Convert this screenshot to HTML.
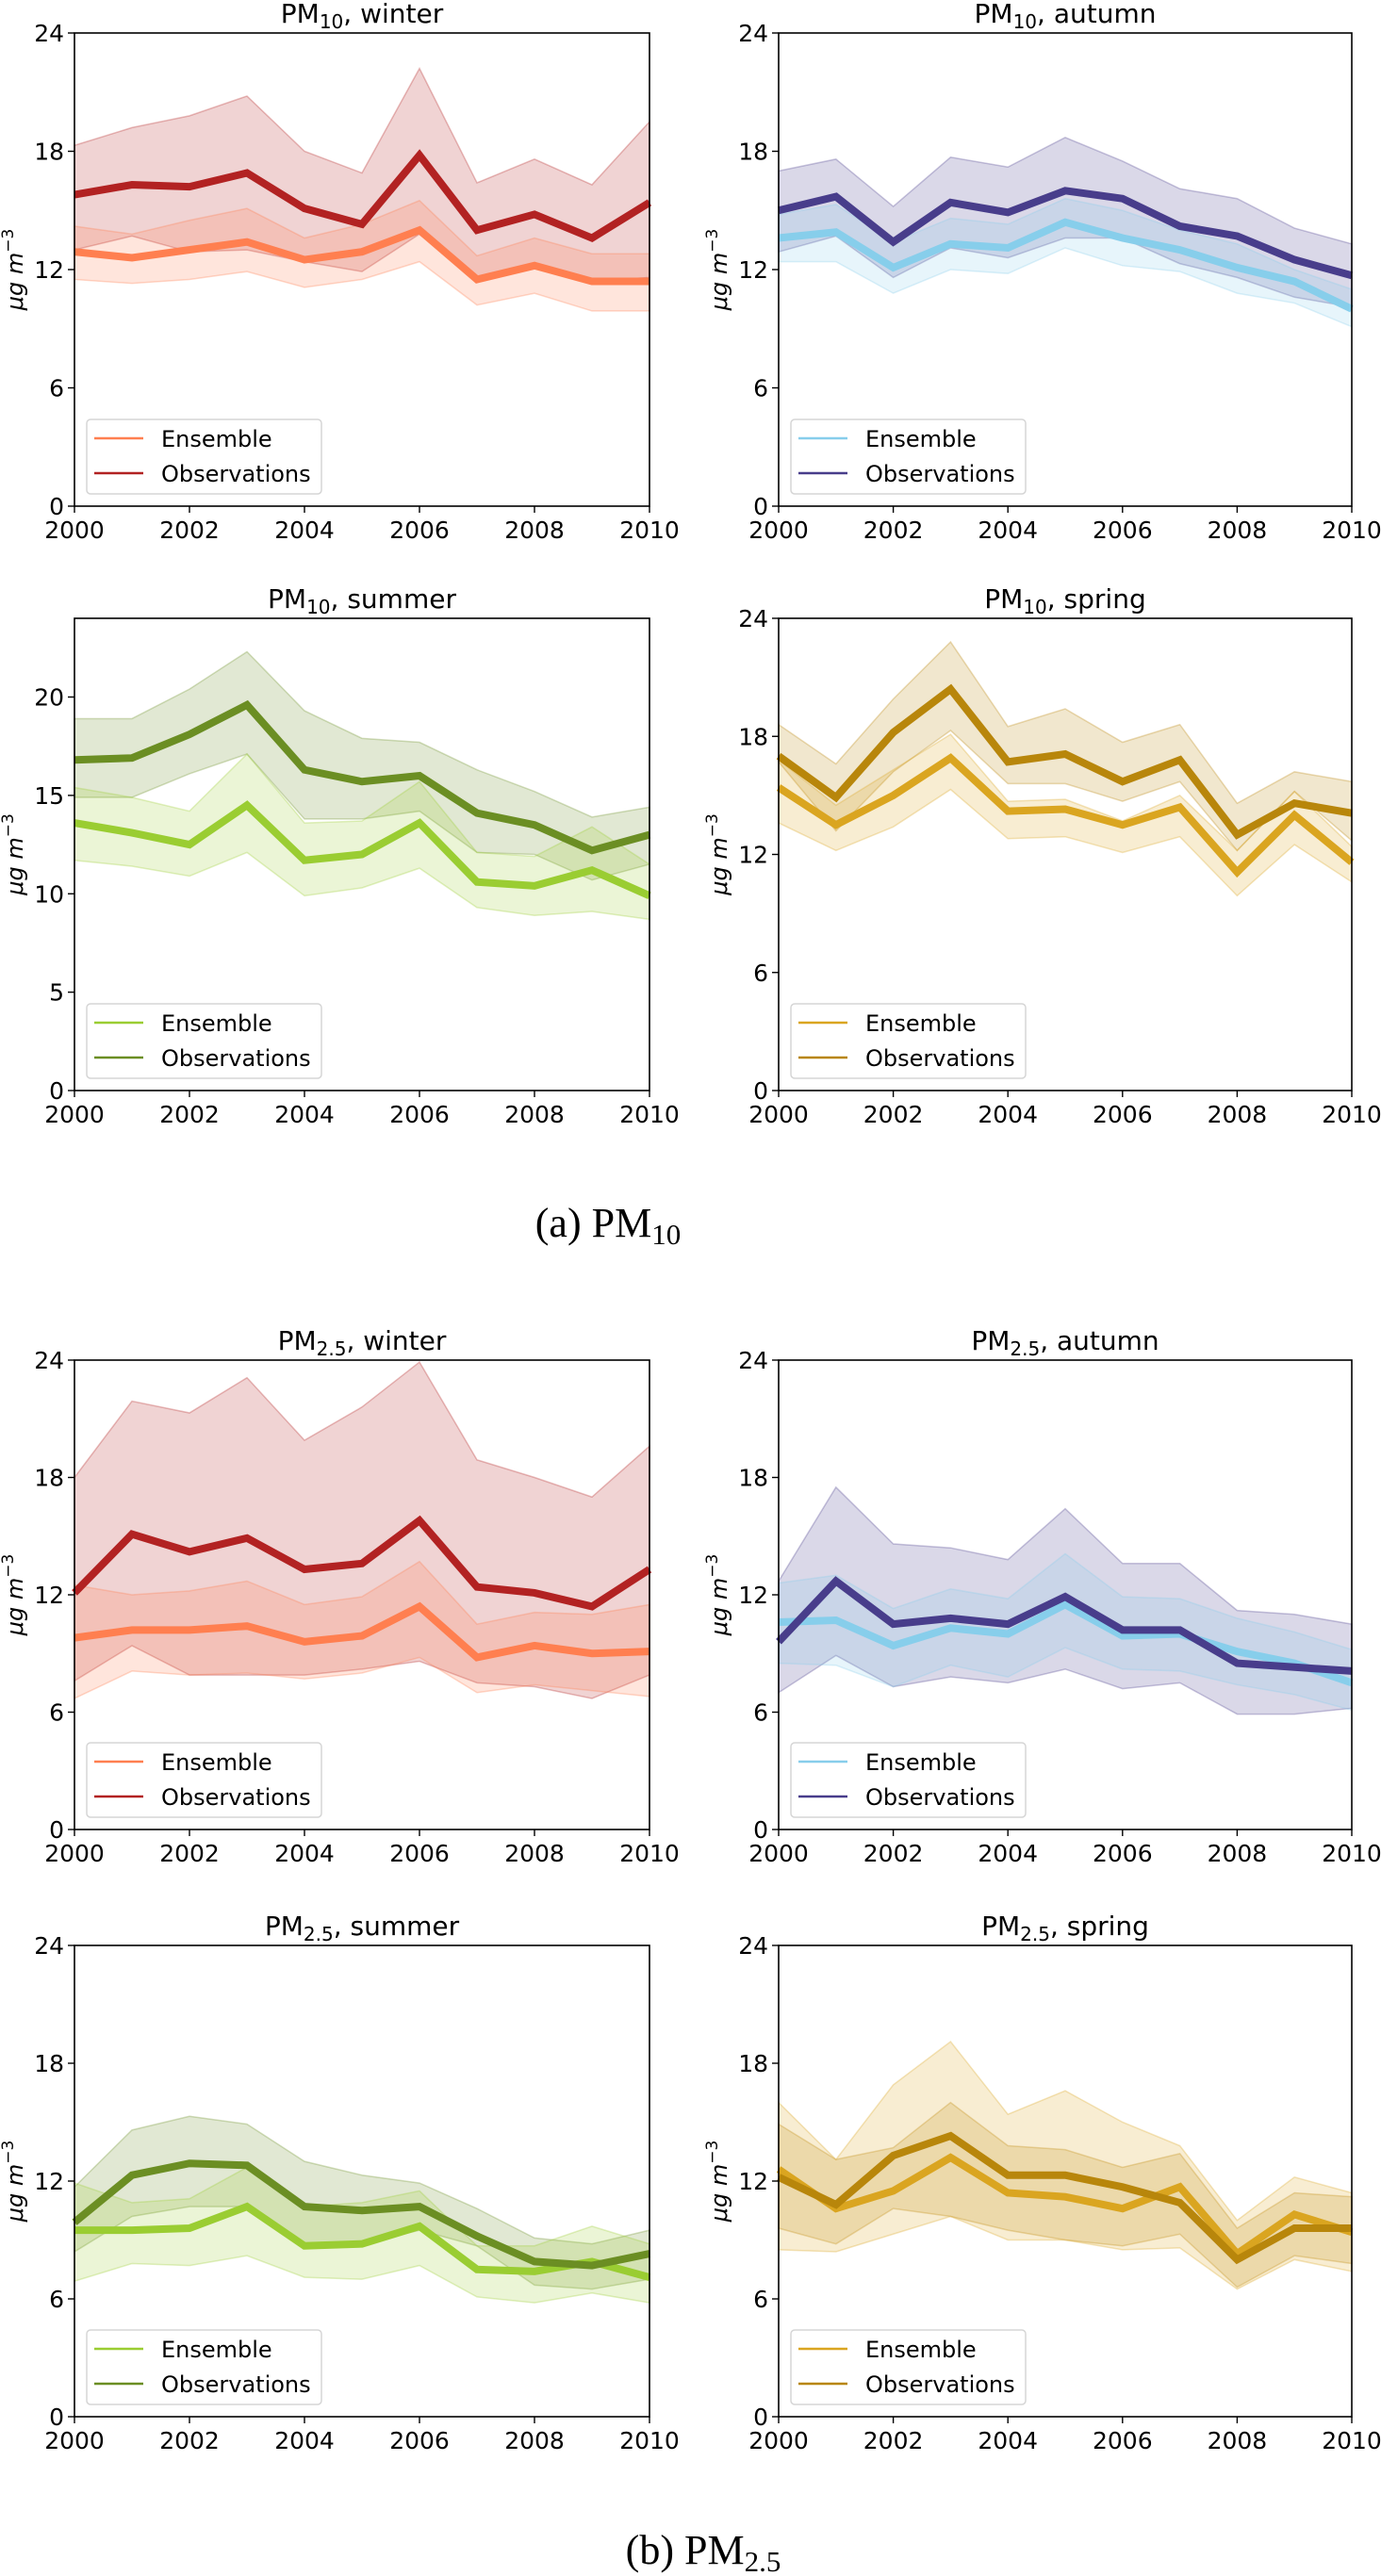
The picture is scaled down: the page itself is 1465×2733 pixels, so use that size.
<!DOCTYPE html>
<html><head><meta charset="utf-8">
<style>
html,body{margin:0;padding:0;background:#fff;}
svg{display:block;}
text{font-family:"DejaVu Sans","Liberation Sans",sans-serif;fill:#000;}
.cap{font-family:"Liberation Serif",serif;}
</style></head>
<body>
<svg id="fig" width="1465" height="2733" viewBox="0 0 1465 2733" xmlns="http://www.w3.org/2000/svg">
<text class="cap" x="645" y="1312" text-anchor="middle" font-size="44">(a)  PM<tspan font-size="31" dy="8">10</tspan></text>
<text class="cap" x="746" y="2720" text-anchor="middle" font-size="44">(b)  PM<tspan font-size="31" dy="8">2.5</tspan></text>
</svg>
<script>
const years = [2000,2001,2002,2003,2004,2005,2006,2007,2008,2009,2010];
const xTicks = [2000,2002,2004,2006,2008,2010];
const yTicks24 = [0,6,12,18,24];
const yTicksSummer10 = [0,5,10,15,20];

// PM10 winter
const pm10WinterObs   = [15.8,16.3,16.2,16.9,15.1,14.3,17.8,14.0,14.8,13.6,15.4];
const pm10WinterObsHi = [18.3,19.2,19.8,20.8,18.0,16.9,22.2,16.4,17.6,16.3,19.5];
const pm10WinterObsLo = [13.0,13.7,12.9,13.0,12.4,11.9,13.8,11.5,12.2,11.4,11.6];
const pm10WinterEns   = [12.9,12.6,13.0,13.4,12.5,12.9,14.0,11.5,12.2,11.4,11.4];
const pm10WinterEnsHi = [14.2,13.8,14.5,15.1,13.6,14.3,15.5,12.7,13.6,12.8,12.8];
const pm10WinterEnsLo = [11.5,11.3,11.5,11.9,11.1,11.5,12.4,10.2,10.8,9.9,9.9];
// PM10 autumn
const pm10AutumnObs   = [15.0,15.7,13.4,15.4,14.9,16.0,15.6,14.2,13.7,12.5,11.7];
const pm10AutumnObsHi = [17.0,17.6,15.2,17.7,17.2,18.7,17.5,16.1,15.6,14.1,13.3];
const pm10AutumnObsLo = [12.9,13.7,11.6,13.1,12.6,13.6,13.6,12.3,11.6,10.6,10.1];
const pm10AutumnEns   = [13.6,13.9,12.1,13.3,13.1,14.4,13.6,13.0,12.1,11.4,10.0];
const pm10AutumnEnsHi = [14.8,15.3,13.4,14.6,14.3,15.6,15.0,14.0,13.3,12.0,11.0];
const pm10AutumnEnsLo = [12.4,12.4,10.8,12.0,11.8,13.1,12.2,11.9,10.8,10.3,9.1];
// PM10 summer
const pm10SummerObs   = [16.8,16.9,18.1,19.6,16.3,15.7,16.0,14.1,13.5,12.2,13.0];
const pm10SummerObsHi = [18.9,18.9,20.4,22.3,19.3,17.9,17.7,16.3,15.2,13.9,14.4];
const pm10SummerObsLo = [14.9,14.9,16.1,17.1,13.8,13.8,14.2,12.1,12.0,10.7,11.5];
const pm10SummerEns   = [13.6,13.1,12.5,14.5,11.7,12.0,13.6,10.6,10.4,11.2,9.9];
const pm10SummerEnsHi = [15.4,14.9,14.2,17.1,13.6,13.7,15.7,12.1,11.9,13.4,11.5];
const pm10SummerEnsLo = [11.7,11.4,10.9,12.1,9.9,10.3,11.3,9.3,8.9,9.1,8.7];
// PM10 spring
const pm10SpringObs   = [17.0,14.9,18.2,20.4,16.7,17.1,15.7,16.8,13.0,14.6,14.1];
const pm10SpringObsHi = [18.6,16.6,19.9,22.8,18.5,19.4,17.7,18.6,14.6,16.2,15.7];
const pm10SpringObsLo = [16.7,13.2,16.2,18.3,15.6,15.6,14.7,15.7,12.2,15.2,12.7];
const pm10SpringEns   = [15.4,13.5,15.0,16.9,14.2,14.3,13.5,14.4,11.1,14.0,11.6];
const pm10SpringEnsHi = [16.8,14.5,16.3,18.1,14.7,14.8,13.7,15.0,12.2,15.2,12.4];
const pm10SpringEnsLo = [13.6,12.2,13.4,15.3,12.8,12.9,12.1,12.9,9.9,12.5,10.6];
// PM2.5 winter
const pm25WinterObs   = [12.1,15.1,14.2,14.9,13.3,13.6,15.8,12.4,12.1,11.4,13.3];
const pm25WinterObsHi = [18.0,21.9,21.3,23.1,19.9,21.6,23.9,18.9,18.0,17.0,19.6];
const pm25WinterObsLo = [7.6,9.4,7.9,7.9,7.9,8.2,8.6,7.5,7.3,6.7,7.9];
const pm25WinterEns   = [9.8,10.2,10.2,10.4,9.6,9.9,11.4,8.8,9.4,9.0,9.1];
const pm25WinterEnsHi = [12.5,12.0,12.2,12.7,11.5,11.9,13.7,10.5,11.1,11.0,11.5];
const pm25WinterEnsLo = [6.7,8.1,7.9,8.0,7.7,8.0,8.8,7.0,7.4,7.1,6.8];
// PM2.5 autumn
const pm25AutumnObs   = [9.6,12.7,10.5,10.8,10.5,11.9,10.2,10.2,8.5,8.3,8.1];
const pm25AutumnObsHi = [12.7,17.5,14.6,14.4,13.8,16.4,13.6,13.6,11.2,11.0,10.5];
const pm25AutumnObsLo = [7.0,8.9,7.3,7.8,7.5,8.2,7.2,7.5,5.9,5.9,6.2];
const pm25AutumnEns   = [10.6,10.7,9.4,10.3,10.0,11.5,9.9,10.0,9.1,8.5,7.5];
const pm25AutumnEnsHi = [12.6,13.0,11.3,12.3,11.8,14.1,11.9,11.8,10.8,10.1,9.2];
const pm25AutumnEnsLo = [8.5,8.4,7.3,8.4,7.8,9.3,8.2,8.1,7.4,6.9,6.1];
// PM2.5 summer
const pm25SummerObs   = [9.9,12.3,12.9,12.8,10.7,10.5,10.7,9.2,7.9,7.7,8.3];
const pm25SummerObsHi = [11.7,14.6,15.3,14.9,13.0,12.3,11.9,10.6,9.1,8.8,9.5];
const pm25SummerObsLo = [8.4,10.2,10.7,10.7,8.8,8.8,9.5,8.7,6.7,6.5,7.0];
const pm25SummerEns   = [9.5,9.5,9.6,10.7,8.7,8.8,9.7,7.5,7.4,7.9,7.1];
const pm25SummerEnsHi = [11.9,10.9,11.1,12.7,10.7,10.9,11.5,8.7,8.7,9.7,8.8];
const pm25SummerEnsLo = [6.9,7.8,7.7,8.2,7.1,7.0,7.7,6.1,5.8,6.3,5.8];
// PM2.5 spring
const pm25SpringObs   = [12.2,10.8,13.3,14.3,12.3,12.3,11.7,10.9,8.0,9.6,9.6];
const pm25SpringObsHi = [14.9,13.1,13.7,16.0,13.8,13.6,12.7,13.4,9.6,11.4,11.2];
const pm25SpringObsLo = [9.6,8.8,10.6,10.2,9.5,9.0,8.7,9.3,6.6,8.2,7.8];
const pm25SpringEns   = [12.6,10.6,11.5,13.2,11.4,11.2,10.6,11.7,8.3,10.3,9.4];
const pm25SpringEnsHi = [16.0,13.1,16.9,19.1,15.4,16.6,15.0,13.8,10.0,12.2,11.4];
const pm25SpringEnsLo = [8.5,8.4,9.3,10.2,9.0,9.0,8.5,8.6,6.5,8.0,7.4];

const NS = "http://www.w3.org/2000/svg";
const svg = document.getElementById('fig');
function mk(tag, attrs, parent){
  const e = document.createElementNS(NS, tag);
  for (const k in attrs) e.setAttribute(k, attrs[k]);
  (parent||svg).appendChild(e);
  return e;
}
const colors = {
  winter:['#ff7f50','#b22222'], autumn:['#87ceeb','#483d8b'],
  summer:['#9acd32','#6b8e23'], spring:['#daa520','#b8860b']
};
const panels = [
  {id:'pm10-winter',pm:'10',season:'winter',L:79,R:689,T:35,B:537,ticks:yTicks24,ymax:24,d:[pm10WinterEns,pm10WinterEnsHi,pm10WinterEnsLo,pm10WinterObs,pm10WinterObsHi,pm10WinterObsLo]},
  {id:'pm10-autumn',pm:'10',season:'autumn',L:826,R:1434,T:35,B:537,ticks:yTicks24,ymax:24,d:[pm10AutumnEns,pm10AutumnEnsHi,pm10AutumnEnsLo,pm10AutumnObs,pm10AutumnObsHi,pm10AutumnObsLo]},
  {id:'pm10-summer',pm:'10',season:'summer',L:79,R:689,T:656,B:1157,ticks:yTicksSummer10,ymax:24,d:[pm10SummerEns,pm10SummerEnsHi,pm10SummerEnsLo,pm10SummerObs,pm10SummerObsHi,pm10SummerObsLo]},
  {id:'pm10-spring',pm:'10',season:'spring',L:826,R:1434,T:656,B:1157,ticks:yTicks24,ymax:24,d:[pm10SpringEns,pm10SpringEnsHi,pm10SpringEnsLo,pm10SpringObs,pm10SpringObsHi,pm10SpringObsLo]},
  {id:'pm25-winter',pm:'2.5',season:'winter',L:79,R:689,T:1443,B:1941,ticks:yTicks24,ymax:24,d:[pm25WinterEns,pm25WinterEnsHi,pm25WinterEnsLo,pm25WinterObs,pm25WinterObsHi,pm25WinterObsLo]},
  {id:'pm25-autumn',pm:'2.5',season:'autumn',L:826,R:1434,T:1443,B:1941,ticks:yTicks24,ymax:24,d:[pm25AutumnEns,pm25AutumnEnsHi,pm25AutumnEnsLo,pm25AutumnObs,pm25AutumnObsHi,pm25AutumnObsLo]},
  {id:'pm25-summer',pm:'2.5',season:'summer',L:79,R:689,T:2064,B:2564,ticks:yTicks24,ymax:24,d:[pm25SummerEns,pm25SummerEnsHi,pm25SummerEnsLo,pm25SummerObs,pm25SummerObsHi,pm25SummerObsLo]},
  {id:'pm25-spring',pm:'2.5',season:'spring',L:826,R:1434,T:2064,B:2564,ticks:yTicks24,ymax:24,d:[pm25SpringEns,pm25SpringEnsHi,pm25SpringEnsLo,pm25SpringObs,pm25SpringObsHi,pm25SpringObsLo]}
];

panels.forEach(p=>{
  const g = mk('g',{});
  
  
  const xs = v => p.L + (v-2000)/10*(p.R-p.L);
  const ys = v => p.B - v/p.ymax*(p.B-p.T);
  const [cE,cO] = colors[p.season];
  const [ens,ensHi,ensLo,obs,obsHi,obsLo] = p.d;
  function band(hi,lo,c,name){
    let pts = years.map((y,i)=>xs(y)+','+ys(hi[i]));
    for (let i=years.length-1;i>=0;i--) pts.push(xs(years[i])+','+ys(lo[i]));
    const e = mk('polygon',{points:pts.join(' '),fill:c,'fill-opacity':0.2,stroke:c,'stroke-opacity':0.3,'stroke-width':1.5},g);
    
    
  }
  function line(v,c,name){
    const e = mk('polyline',{points:years.map((y,i)=>xs(y)+','+ys(v[i])).join(' '),fill:'none',stroke:c,'stroke-width':8,'stroke-linejoin':'miter'},g);
    
    
  }
  band(obsHi,obsLo,cO,'observations-range');
  band(ensHi,ensLo,cE,'ensemble-range');
  line(ens,cE,'ensemble-line');
  line(obs,cO,'observations-line');
  const fr = mk('rect',{x:p.L,y:p.T,width:p.R-p.L,height:p.B-p.T,fill:'none',stroke:'#000','stroke-width':1.6},g);
  
  
  xTicks.forEach(t=>{
    mk('line',{x1:xs(t),x2:xs(t),y1:p.B,y2:p.B+7,stroke:'#000','stroke-width':1.4},g);
    const tx = mk('text',{x:xs(t),y:p.B+34,'text-anchor':'middle','font-size':25},g);
    tx.textContent = t;
    
    
  });
  p.ticks.forEach(t=>{
    mk('line',{x1:p.L-7,x2:p.L,y1:ys(t),y2:ys(t),stroke:'#000','stroke-width':1.4},g);
    const tx = mk('text',{x:p.L-11,y:ys(t)+9,'text-anchor':'end','font-size':25},g);
    tx.textContent = t;
    
    
  });
  const ti = mk('text',{x:(p.L+p.R)/2,y:p.T-11,'text-anchor':'middle','font-size':28},g);
  ti.innerHTML = 'PM<tspan font-size="20" dy="6">'+p.pm+'</tspan><tspan dy="-6">, '+p.season+'</tspan>';
  
  
  const cy = (p.T+p.B)/2, lx = p.L-55;
  const yl = mk('text',{x:lx,y:cy,'text-anchor':'middle','font-size':24,transform:'rotate(-90 '+lx+' '+cy+')'},g);
  yl.innerHTML = '<tspan font-style="italic">μg m</tspan><tspan font-size="17" dy="-10">−3</tspan>';
  
  
  const lg = mk('g',{},g);
  
  
  mk('rect',{x:p.L+13,y:p.B-92,width:249,height:79,rx:4,fill:'#fff','fill-opacity':0.8,stroke:'#d5d5d5','stroke-width':1.5},lg);
  [[cE,'Ensemble',p.B-72],[cO,'Observations',p.B-35]].forEach(([c,lab,yy])=>{
    const le = mk('g',{},lg);
    
    
    mk('line',{x1:p.L+21,x2:p.L+73,y1:yy,y2:yy,stroke:c,'stroke-width':2.5},le);
    const t = mk('text',{x:p.L+92,y:yy+9,'font-size':24},le);
    t.textContent = lab;
  });
});
</script>
</body></html>
